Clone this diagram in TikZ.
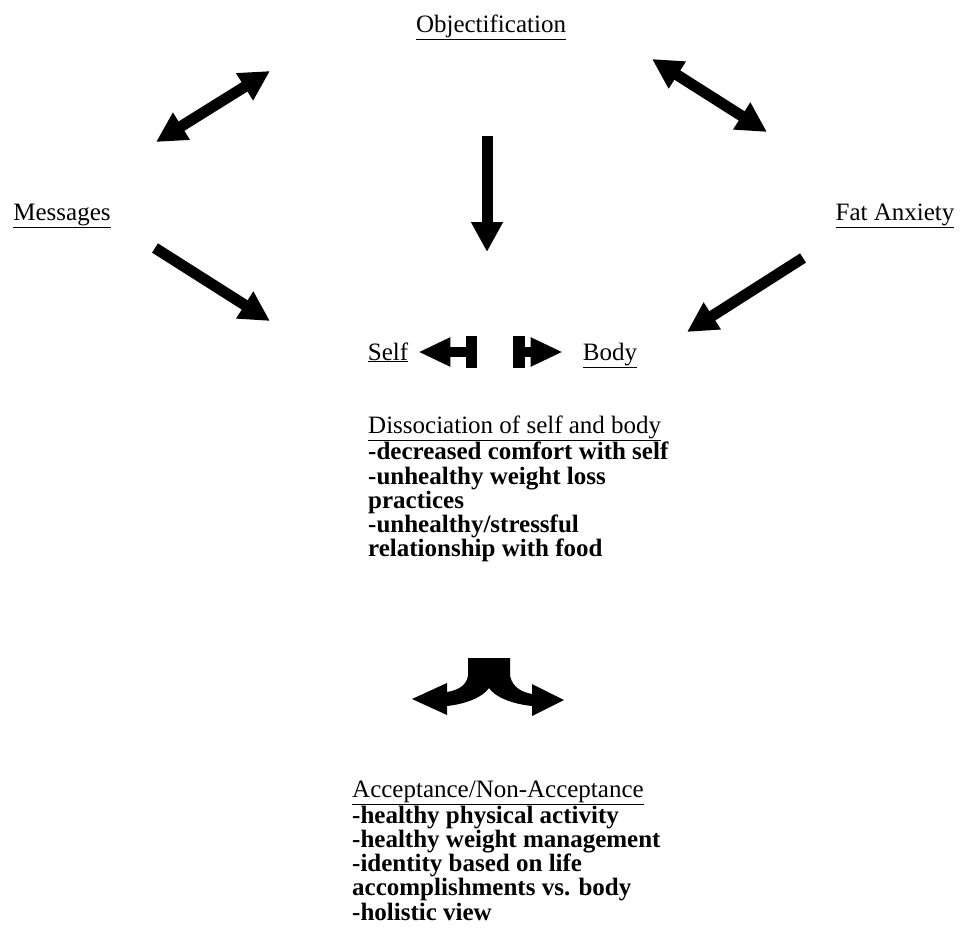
\documentclass[tikz,border=0pt]{standalone}
\usepackage{fontspec}
\setmainfont{Liberation Serif}
\usetikzlibrary{arrows.meta}
\tikzset{
  hd/.style    ={font=\fontsize{25}{24.2}\selectfont,inner sep=0pt,anchor=base},
  lst/.style   ={font=\fontsize{25}{24.2}\selectfont\bfseries,inner sep=0pt,
                 align=left,anchor=north west},
  fat/.style   ={line width=11pt,-{Triangle[length=30pt,width=30pt]}},
  fatdbl/.style={line width=11pt,{Triangle[length=30pt,width=30pt]}-{Triangle[length=30pt,width=30pt]}},
  sb/.style    ={line width=10pt,-{Triangle[length=32pt,width=27pt]}},
}

\begin{document}
\begin{tikzpicture}[x=1pt,y=-1pt]
\useasboundingbox (0,0) rectangle (962,937);

% ---- the three sources ---------------------------------------------------
\node[hd] (obj) at (491,32) {\underline{Objectification}};
\node[hd] (msg) at (62,220) {\underline{Messages}};
\node[hd] (fat) at (895,220) {\underline{Fat Anxiety}};

\coordinate (oml) at (156,142); \coordinate (omr) at (270,71);
\coordinate (ofl) at (652,59);  \coordinate (ofr) at (767,132);
\draw[fatdbl](oml)--(omr);
\draw[fatdbl](ofl)--(ofr);

\coordinate (ot) at (487,136); \coordinate (ob) at (487,252);
\coordinate (mt) at (155,248); \coordinate (mb) at (270,321);
\coordinate (ft) at (803,258); \coordinate (fb) at (687,332);
\draw[fat](ot)--(ob);
\draw[fat](mt)--(mb);
\draw[fat](ft)--(fb);

% ---- self / body split ---------------------------------------------------
\node[hd] (self) at (388,360) {\underline{Self}};
\node[hd] (body) at (610,360) {\underline{Body}};
\coordinate (sbar) at (471.5,352); \coordinate (bbar) at (519,352);
\fill (466,336) rectangle (477,368);
\fill (513,336) rectangle (525,368);
\draw[sb](sbar)--([xshift=10pt]self.east|-sbar);
\draw[sb](bbar)--([xshift=-20pt]body.west|-bbar);

\node[lst] (dis) at (368,416)
  {{\mdseries\underline{Dissociation of self and body}}\\
   -decreased comfort with self\\
   -unhealthy weight loss\\
   practices\\
   -unhealthy/stressful\\
   relationship with food};

% ---- the fork ------------------------------------------------------------
\fill (468,658) -- (510,658) -- (510,676)
  .. controls (513,688) and (522,692) .. (532,694) -- (532,684) -- (564,700)
  -- (532,716) -- (532,706)
  .. controls (512,704) and (495,697) .. (489,688)
  .. controls (483,697) and (466,704) .. (447,706) -- (447,715) -- (412,699)
  -- (447,683) -- (447,692)
  .. controls (458,690) and (466,686) .. (468,676) -- cycle;

\node[lst] (acc) at (352,781)
  {{\mdseries\underline{Acceptance/Non-Acceptance}}\\
   -healthy physical activity\\
   -healthy weight management\\
   -identity based on life\\
   accomplishments vs. body\\
   -holistic view};
\end{tikzpicture}
\end{document}
